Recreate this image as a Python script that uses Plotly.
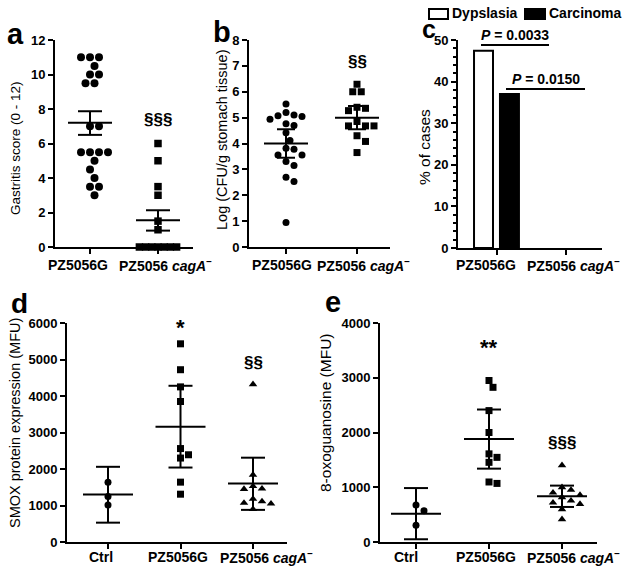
import plotly.graph_objects as go

W, H = 626, 571
FONT = "Liberation Sans, Arial, Helvetica, sans-serif"

# ---------------- data ----------------
cats2 = ["PZ5056G", "PZ5056 <i>cagA</i><sup>−</sup>"]
cats3 = ["Ctrl", "PZ5056G", "PZ5056 <i>cagA</i><sup>−</sup>"]

# a: gastritis score
a_pz = [11, 11, 11, 10.5, 10, 10, 9.5, 9.5, 7, 7, 5.5, 5.5, 5.5, 5.5, 5, 4.5, 4, 3.5, 3.5, 3]
a_cag = [6, 5, 3.5, 3, 1.5, 1, 0, 0, 0, 0, 0, 0, 0]
a_mean = [7.2, 1.55]
a_lo = [6.5, 0.95]
a_hi = [7.87, 2.13]

# b: log CFU
b_pz = [5.53, 5.2, 5.07, 4.94, 5.04, 5.1, 4.7, 4.76, 4.42, 4.12, 3.82, 3.78, 3.56, 3.56,
        3.3, 3.15, 2.7, 2.53, 0.95]
b_cag = [6.29, 6.0, 6.0, 5.36, 5.4, 5.27, 4.68, 4.68, 4.68, 4.85, 4.3, 4.08, 3.65]
b_mean = [4.0, 5.0]
b_lo = [3.45, 4.55]
b_hi = [4.55, 5.45]

# c: % of cases
c_dys = [47.4, 0]
c_car = [37.0, 0]
c_pvals = ["0.0033", "0.0150"]
c_plevel = [48.8, 38.2]

# d: SMOX
d_ctrl = [1635, 1250, 1015]
d_pz = [5430, 4720, 4250, 3850, 2560, 2300, 2390, 1640, 1310]
d_cag = [4320, 1840, 1530, 1450, 1460, 1070, 1180, 900, 1050, 1110]
d_mean = [1300, 3160, 1600]
d_lo = [530, 2040, 880]
d_hi = [2060, 4280, 2310]

# e: 8-oxoguanosine
e_ctrl = [676, 572, 304]
e_pz = [2950, 2825, 2400, 2000, 1546, 1610, 1455, 1070, 1096]
e_cag = [1400, 1000, 900, 950, 816, 858, 694, 755, 718, 597, 414]
e_mean = [515, 1880, 834]
e_lo = [50, 1340, 640]
e_hi = [985, 2420, 1030]

# ---------------- layout geometry (pixels) ----------------
P = {
    "a": dict(x0=55, x1=193, y0=40, y1=247, cpx=[90, 158], ymax=12, dtick=2,
              lab_px=[78, 165], lab_y=265),
    "b": dict(x0=249, x1=390, y0=40, y1=247, cpx=[286, 357], ymax=8, dtick=1,
              lab_px=[282, 363], lab_y=265),
    "c": dict(x0=458, x1=602, y0=40, y1=248, cpx=[497, 566], ymax=50, dtick=10,
              lab_px=[486, 573], lab_y=265),
    "d": dict(x0=67, x1=287, y0=323, y1=542, cpx=[108, 181, 253], ymax=6000, dtick=1000,
              lab_px=[101, 178, 266], lab_y=557),
    "e": dict(x0=380, x1=597, y0=323, y1=542, cpx=[416, 489, 562], ymax=4000, dtick=1000,
              lab_px=[406, 486, 573], lab_y=557),
}
for k, p in P.items():
    n = len(p["cpx"])
    p["ppu"] = (p["cpx"][-1] - p["cpx"][0]) / (n - 1)
    p["r0"] = -(p["cpx"][0] - p["x0"]) / p["ppu"]
    p["r1"] = (n - 1) + (p["x1"] - p["cpx"][-1]) / p["ppu"]
    p["ypu"] = (p["y1"] - p["y0"]) / p["ymax"]


def swarm(vals, p, diam):
    """Beeswarm offsets (in category units) computed from values."""
    order = sorted(range(len(vals)), key=lambda i: -vals[i])
    placed = []
    offs = [0.0] * len(vals)
    half = diam / 2.0
    for i in order:
        yp = vals[i] * p["ypu"]
        k = 0
        chosen = None
        while chosen is None:
            cands = [0] if k == 0 else [k, -k]
            for c in cands:
                xp = c * half
                if all((xp - a) ** 2 + (yp - b) ** 2 >= (diam * 0.98) ** 2 for a, b in placed):
                    chosen = xp
                    break
            k += 1
        placed.append((chosen, yp))
        offs[i] = chosen / p["ppu"]
    return offs


fig = go.Figure()
axnames = {"a": ("x", "y"), "b": ("x2", "y2"), "c": ("x3", "y3"), "d": ("x4", "y4"), "e": ("x5", "y5")}


def add_points(panel, idx, vals, symbol, size, diam):
    p = P[panel]
    offs = swarm(vals, p, diam)
    xa, ya = axnames[panel]
    fig.add_trace(go.Scatter(
        x=[idx + o for o in offs], y=vals, mode="markers", xaxis=xa, yaxis=ya,
        marker=dict(symbol=symbol, size=size, color="black", line=dict(width=0)),
        cliponaxis=False, showlegend=False, hoverinfo="y"))


def add_errbars(panel, means, los, his, half_mean_px, half_cap_px):
    p = P[panel]
    xa, ya = axnames[panel]
    wm = half_mean_px / p["ppu"]
    wc = half_cap_px / p["ppu"]
    xs, ys = [], []
    for i, (m, lo, hi) in enumerate(zip(means, los, his)):
        xs += [i - wm, i + wm, None, i, i, None, i - wc, i + wc, None, i - wc, i + wc, None]
        ys += [m, m, None, lo, hi, None, lo, lo, None, hi, hi, None]
    fig.add_trace(go.Scatter(x=xs, y=ys, mode="lines", xaxis=xa, yaxis=ya,
                             line=dict(color="black", width=2), cliponaxis=False,
                             showlegend=False, hoverinfo="skip"))


# a
add_points("a", 0, a_pz, "circle", 8, 9)
add_points("a", 1, a_cag, "square", 7.5, 6.2)
add_errbars("a", a_mean, a_lo, a_hi, 22, 12)
# b
add_points("b", 0, b_pz, "circle", 7, 8)
add_points("b", 1, b_cag, "square", 7, 8.5)
add_errbars("b", b_mean, b_lo, b_hi, 22, 9)
# c (zero-height bars are not drawn)
fig.add_trace(go.Bar(x=[0, 1], y=[v if v else None for v in c_dys], name="Dypslasia",
                     xaxis="x3", yaxis="y3", width=0.275, offset=-0.333,
                     marker=dict(color="white", line=dict(color="black", width=2)),
                     showlegend=False))
fig.add_trace(go.Bar(x=[0, 1], y=[v if v else None for v in c_car], name="Carcinoma",
                     xaxis="x3", yaxis="y3", width=0.275, offset=0.043,
                     marker=dict(color="black", line=dict(color="black", width=2)),
                     showlegend=False))
# d
add_points("d", 0, d_ctrl, "circle", 7, 8)
add_points("d", 1, d_pz, "square", 7, 8)
add_points("d", 2, d_cag, "triangle-up", 7.5, 9)
add_errbars("d", d_mean, d_lo, d_hi, 25, 12)
# e
add_points("e", 0, e_ctrl, "circle", 7, 8)
add_points("e", 1, e_pz, "square", 7, 8)
add_points("e", 2, e_cag, "triangle-up", 7.5, 9)
add_errbars("e", e_mean, e_lo, e_hi, 25, 12)

# ---------------- axes ----------------
layout = dict(width=W, height=H, margin=dict(l=0, r=0, t=0, b=0, autoexpand=False),
              paper_bgcolor="white", plot_bgcolor="white",
              font=dict(family=FONT, color="black"), barmode="overlay")
ann = []
for i, key in enumerate(["a", "b", "c", "d", "e"]):
    p = P[key]
    sfx = "" if i == 0 else str(i + 1)
    n = len(p["cpx"])
    layout["xaxis" + sfx] = dict(
        domain=[p["x0"] / W, p["x1"] / W], range=[p["r0"], p["r1"]],
        anchor="y" + sfx, tickvals=list(range(n)), showticklabels=False, automargin=False,
        ticks="outside", ticklen=5, tickwidth=2, tickcolor="black",
        showline=True, linewidth=2, linecolor="black", showgrid=False, zeroline=False,
        fixedrange=True)
    ya = dict(
        domain=[1 - p["y1"] / H, 1 - p["y0"] / H], range=[0, p["ymax"]],
        anchor="x" + sfx, dtick=p["dtick"], tick0=0, automargin=False,
        ticks="outside", ticklen=5, tickwidth=2, tickcolor="black",
        showline=True, linewidth=2, linecolor="black", showgrid=False, zeroline=False,
        tickfont=dict(family=FONT, size=13, weight="bold", color="black"), fixedrange=True)
    if key == "c":
        ya["minor"] = dict(dtick=2, ticks="outside", ticklen=3, tickwidth=2, tickcolor="black")
    layout["yaxis" + sfx] = ya
    # category labels (placed like the original figure, slightly spread apart)
    labels = cats2 if n == 2 else cats3
    for lab, lx in zip(labels, p["lab_px"]):
        ann.append(dict(text=lab, x=lx / W, y=1 - p["lab_y"] / H, xref="paper", yref="paper",
                        showarrow=False, xanchor="center", yanchor="middle",
                        font=dict(family=FONT, size=14, weight="bold", color="black")))

fig.update_layout(**layout)


def px2paper(x, y):
    return x / W, 1 - y / H


# axis titles
titles = [
    ("Gastritis score (0 - 12)", 15, 148, 13.5),
    ("Log (CFU/g stomach tissue)", 222, 140, 14.5),
    ("% of cases", 425, 147, 15.5),
    ("SMOX protein expression (MFU)", 15, 423, 14.5),
    ("8-oxoguanosine (MFU)", 325, 413, 15.5),
]
for t, x, y, s in titles:
    px, py = px2paper(x, y)
    ann.append(dict(text=t, x=px, y=py, xref="paper", yref="paper", textangle=-90,
                    showarrow=False, xanchor="center", yanchor="middle",
                    font=dict(family=FONT, size=s, color="black")))
# panel letters
for t, x, y, s in [("a", 15, 34, 29), ("b", 222, 32, 29), ("c", 429, 29, 25),
                   ("d", 19, 303, 28), ("e", 333, 302, 29)]:
    px, py = px2paper(x, y)
    ann.append(dict(text=t, x=px, y=py, xref="paper", yref="paper", showarrow=False,
                    xanchor="center", yanchor="middle",
                    font=dict(family=FONT, size=s, weight="bold", color="black")))
# significance marks
sig = [("§§§", "x", "y", 1, 7.4, 17), ("§§", "x2", "y2", 1, 7.15, 17),
       ("*", "x4", "y4", 1, 5880, 22), ("§§", "x4", "y4", 2, 4930, 17),
       ("**", "x5", "y5", 1, 3560, 22), ("§§§", "x5", "y5", 2, 1826, 17)]
for t, xa, ya, x, y, s in sig:
    ann.append(dict(text=t, x=x, y=y, xref=xa, yref=ya, showarrow=False,
                    xanchor="center", yanchor="middle",
                    font=dict(family=FONT, size=s, weight="bold", color="black")))
# P values and brackets in panel c
pc = P["c"]
spans = [(481, 549), (506, 585)]
shapes = []
for (xa_px, xb_px), pv, lev in zip(spans, c_pvals, c_plevel):
    xa_d = (xa_px - pc["cpx"][0]) / pc["ppu"]
    xb_d = (xb_px - pc["cpx"][0]) / pc["ppu"]
    shapes.append(dict(type="line", xref="x3", yref="y3", x0=xa_d, x1=xb_d, y0=lev, y1=lev,
                       line=dict(color="black", width=2)))
    ann.append(dict(text="<i>P</i> = " + pv, x=(xa_d + xb_d) / 2, y=lev, xref="x3", yref="y3",
                    showarrow=False, xanchor="center", yanchor="bottom", yshift=0,
                    font=dict(family=FONT, size=14, weight="bold", color="black")))
# legend (drawn)
leg = [("Dypslasia", "white", 429, 448), ("Carcinoma", "black", 525, 545)]
for name, col, x0, x1 in leg:
    shapes.append(dict(type="rect", xref="paper", yref="paper",
                       x0=x0 / W, x1=x1 / W, y0=1 - 19 / H, y1=1 - 9 / H,
                       fillcolor=col, line=dict(color="black", width=2)))
    ann.append(dict(text=name, x=(x1 + 2) / W, y=1 - 13.5 / H, xref="paper", yref="paper",
                    showarrow=False, xanchor="left", yanchor="middle",
                    font=dict(family=FONT, size=14, weight="bold", color="black")))

fig.update_layout(annotations=ann, shapes=shapes)
fig.write_html("out.html", config={"displayModeBar": False, "staticPlot": True},
               post_script="document.body.style.margin='0px';")
